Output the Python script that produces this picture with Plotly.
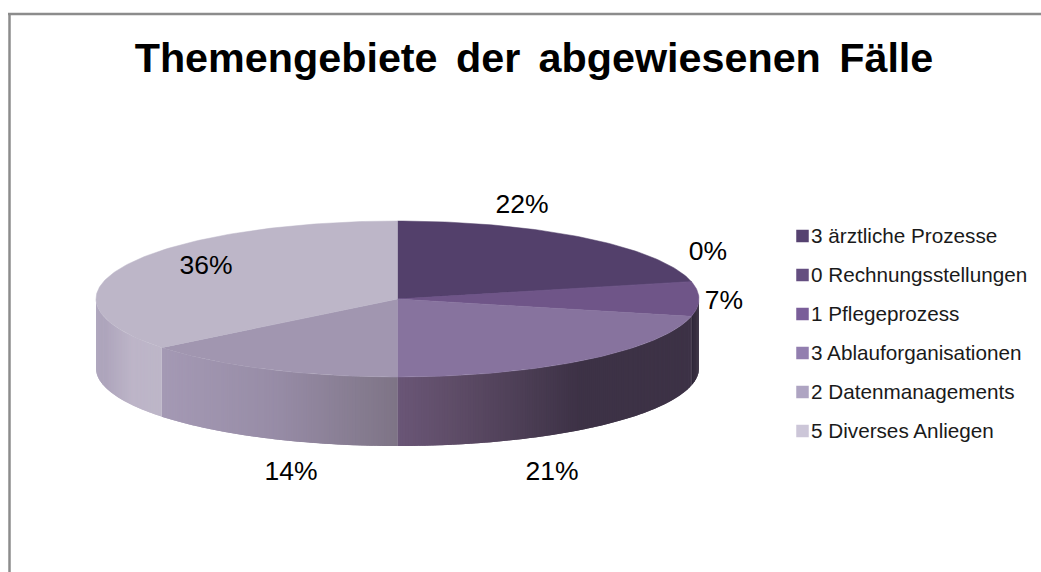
import math
import plotly.graph_objects as go

# ---- data ----
categories = ["3 ärztliche Prozesse", "0 Rechnungsstellungen", "1 Pflegeprozess",
              "3 Ablauforganisationen", "2 Datenmanagements", "5 Diverses Anliegen"]
counts = [3, 0, 1, 3, 2, 5]
share_labels = ["22%", "0%", "7%", "21%", "14%", "36%"]
title_text = "Themengebiete \u2006der \u2006abgewiesenen \u2006Fälle"

# ---- styles ----
top_colors = ["#53406b", "#5d4876", "#6f5588", "#87739e", "#a196b0", "#bdb6c8"]
legend_colors = ["#564270", "#644e80", "#7a5e99", "#927eaf", "#aea4c2", "#ccc6d8"]
# side wall shading: (position across the pie from -1 to 1, colour)
wall_stops = [
    [(-1, "#53406b"), (1, "#53406b")],
    [(-1, "#5d4876"), (1, "#5d4876")],
    [(0.9, "#302739"), (1, "#302739")],
    [(0, "#6a5677"), (0.18, "#5f4d68"), (0.6, "#3d3246"), (0.98, "#3d3246"), (1, "#302739")],
    [(-0.8, "#a59ab5"), (-0.4, "#978ca6"), (0, "#7e7486")],
    [(-1, "#a9a0b8"), (-0.88, "#bdb5c8"), (-0.78, "#bdb6c8")],
]

W, H = 1041, 572
CX, CY, RX, RY, DEPTH = 397.5, 299, 301.5, 78, 69
label_pos = [(522, 206), (708, 253), (724, 302), (552, 473), (291, 473), (206, 267)]
legend_x, legend_text_x = 802.5, 811
legend_y0, legend_dy = 236, 39
legend_text_dy = 1.5
LABEL_SIZE, LEGEND_SIZE, TITLE_SIZE = 26.5, 20.7, 41.3
BORDER = "#8c8c8c"


def hex2rgb(c):
    return [int(c[i:i + 2], 16) for i in (1, 3, 5)]


def shade(stops, x):
    if x <= stops[0][0]:
        return stops[0][1]
    for (a, ca), (b, cb) in zip(stops, stops[1:]):
        if x <= b:
            t = (x - a) / (b - a)
            r = [round(p + (q - p) * t) for p, q in zip(hex2rgb(ca), hex2rgb(cb))]
            return "rgb(%d,%d,%d)" % tuple(r)
    return stops[-1][1]


def px(theta):
    return CX + RX * math.sin(theta)


def py(theta):
    return CY - RY * math.cos(theta)


fig = go.Figure()
total = sum(counts)
bounds = [0]
for s in counts:
    bounds.append(bounds[-1] + s / total * 2 * math.pi)

# side walls: only the front half (90deg .. 270deg) is visible.
# Every strip reaches under its successor so no seams show.
for i in range(len(counts)):
    a = max(bounds[i], math.pi / 2)
    b = min(bounds[i + 1], 3 * math.pi / 2)
    if b <= a:
        continue
    n = max(2, int((b - a) / math.radians(0.5)))
    for k in range(n):
        t0 = a + (b - a) * k / n
        t1 = a + (b - a) * (k + 1) / n
        t2 = min(b, t1 + (b - a) / n)
        col = shade(wall_stops[i], math.sin((t0 + t1) / 2))
        ts = [t0, t1, t2]
        xs = [px(t) for t in ts] + [px(t) for t in reversed(ts)] + [px(t0)]
        ys = [py(t) for t in ts] + [py(t) + DEPTH for t in reversed(ts)] + [py(t0)]
        fig.add_trace(go.Scatter(x=xs, y=ys, mode="lines", fill="toself", fillcolor=col,
                                 line=dict(width=0), showlegend=False, hoverinfo="skip"))

# top faces
for i in range(len(counts)):
    a, b = bounds[i], bounds[i + 1]
    n = max(2, int((b - a) / math.radians(1)))
    ts = [a + (b - a) * k / n for k in range(n + 1)]
    xs = [CX] + [px(t) for t in ts] + [CX]
    ys = [CY] + [py(t) for t in ts] + [CY]
    fig.add_trace(go.Scatter(x=xs, y=ys, mode="lines", fill="toself", fillcolor=top_colors[i],
                             line=dict(color=top_colors[i], width=0.5), name=categories[i],
                             showlegend=False, hoverinfo="name"))

# percentage labels
fig.add_trace(go.Scatter(x=[p[0] for p in label_pos], y=[p[1] for p in label_pos],
                         mode="text", text=share_labels, showlegend=False, hoverinfo="skip",
                         textfont=dict(family="Liberation Sans", size=LABEL_SIZE, color="#000000")))

# legend
for i, c in enumerate(categories):
    y = legend_y0 + legend_dy * i
    fig.add_trace(go.Scatter(x=[legend_x], y=[y], mode="markers", showlegend=False, hoverinfo="skip",
                             marker=dict(symbol="square", size=12.5, color=legend_colors[i])))
    fig.add_trace(go.Scatter(x=[legend_text_x], y=[y + legend_text_dy], mode="text", text=[c],
                             showlegend=False, textposition="middle right", hoverinfo="skip",
                             textfont=dict(family="Liberation Sans", size=LEGEND_SIZE, color="#1a1a1a")))

fig.update_layout(
    width=W, height=H, margin=dict(l=0, r=0, t=0, b=0),
    paper_bgcolor="#ffffff", plot_bgcolor="#ffffff",
    showlegend=False,
    xaxis=dict(range=[0, W], visible=False, fixedrange=True),
    yaxis=dict(range=[H, 0], visible=False, fixedrange=True),
    title=dict(text=title_text, x=534 / W, y=1 - 58 / H, xanchor="center", yanchor="middle",
               font=dict(family="Liberation Sans", size=TITLE_SIZE, color="#000000", weight="bold")),
    shapes=[
        dict(type="line", x0=8, x1=W, y0=14, y1=14, line=dict(color=BORDER, width=2.5)),
        dict(type="line", x0=9.5, x1=9.5, y0=13, y1=H, line=dict(color=BORDER, width=2.5)),
    ],
)

fig.write_html("out.html", config={"displayModeBar": False},
               post_script="document.body.style.margin='0';")
